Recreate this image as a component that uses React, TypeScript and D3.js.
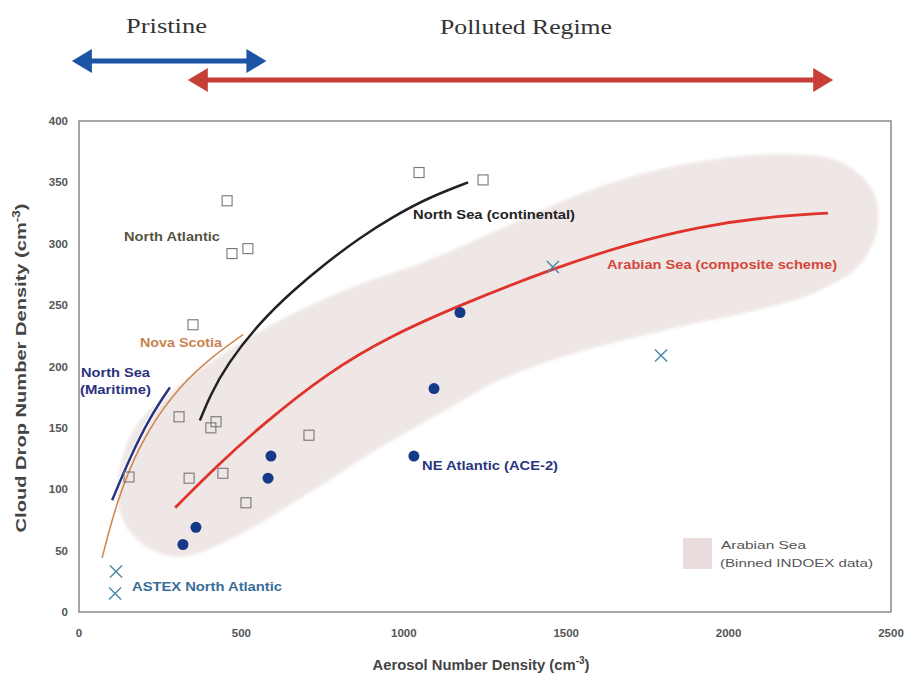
import React from "react";
import * as d3 from "d3";

type P = [number, number];

const xTicks = [0, 500, 1000, 1500, 2000, 2500];
const yTicks = [0, 50, 100, 150, 200, 250, 300, 350, 400];

const northAtlanticSquares: P[] = [
  [456, 335], [471, 292], [520, 296], [351, 234], [308, 159], [422, 155],
  [406, 150], [339, 109], [154, 110], [443, 113], [514, 89], [708, 144],
  [1047, 358], [1244, 352],
];

const aceDots: P[] = [
  [320, 55], [360, 69], [582, 109], [591, 127], [1031, 127], [1093, 182], [1173, 244],
];

const astexCrosses: P[] = [
  [114, 33], [111, 15], [1459, 281], [1792, 209],
];

const arabianSeaCurve: P[] = [
  [296, 85], [420, 118], [557, 151], [764, 195], [967, 226], [1173, 250],
  [1459, 280], [1706, 301], [1912, 314], [2118, 322], [2306, 325],
];

const northSeaContinentalCurve: P[] = [
  [372, 156], [403, 176], [456, 202], [557, 236], [659, 262], [764, 285],
  [865, 305], [967, 322], [1071, 337], [1198, 350],
];

const novaScotiaCurve: P[] = [
  [71, 44], [117, 91], [188, 138], [289, 178], [394, 205], [505, 226],
];

const northSeaMaritimeCurve: P[] = [
  [102, 91], [157, 126], [219, 159], [280, 183],
];

const indoexEnvelope: P[] = [
  [120, 108], [172, 150], [296, 182], [465, 214], [650, 242], [865, 267],
  [1081, 287], [1296, 312], [1481, 334], [1666, 352], [1912, 367], [2158, 373],
  [2343, 367], [2442, 344], [2460, 315], [2405, 283], [2281, 262], [2118, 248],
  [1810, 230], [1502, 209], [1296, 189], [1133, 165], [927, 134], [720, 99],
  [465, 59], [311, 45], [209, 53], [135, 75],
];

const pristineRange: [number, number] = [-22, 577];
const pollutedRange: [number, number] = [335, 2322];

export default function App() {
  const W = 913, H = 679;
  const x = d3.scaleLinear().domain([0, 2500]).range([79, 891]);
  const y = d3.scaleLinear().domain([0, 400]).range([612, 121]);

  const line = d3.line<P>().x(d => x(d[0])).y(d => y(d[1])).curve(d3.curveBasis);
  const blob = d3.line<P>().x(d => x(d[0])).y(d => y(d[1])).curve(d3.curveCatmullRomClosed.alpha(0.5));

  const font = "'Liberation Sans', Arial, sans-serif";
  const serif = "'Liberation Serif', 'Times New Roman', serif";

  const arrow = (x1: number, x2: number, yy: number, color: string) => {
    const hl = 20, hh = 12, sw = 5;
    return (
      <g>
        <line x1={x1 + hl - 2} x2={x2 - hl + 2} y1={yy} y2={yy} stroke={color} strokeWidth={sw} />
        <path d={`M${x1},${yy} L${x1 + hl},${yy - hh} L${x1 + hl},${yy + hh} Z`} fill={color} />
        <path d={`M${x2},${yy} L${x2 - hl},${yy - hh} L${x2 - hl},${yy + hh} Z`} fill={color} />
      </g>
    );
  };

  const Label = (p: { x: number; y: number; w: number; fill: string; text: string; size?: number; weight?: number }) => (
    <text x={p.x} y={p.y} fontFamily={font} fontWeight={p.weight ?? 700} fontSize={p.size ?? 12}
      fill={p.fill} textLength={p.w} lengthAdjust="spacingAndGlyphs">{p.text}</text>
  );

  return (
    <svg width={W} height={H} style={{ position: "absolute", left: 0, top: 0, display: "block", background: "#fff" }}>
      <defs>
        <filter id="soft" x="-5%" y="-5%" width="110%" height="110%">
          <feGaussianBlur stdDeviation="1.5" />
        </filter>
      </defs>

      {/* top annotations */}
      <text x={126} y={33} fontFamily={serif} fontSize={20} fill="#333" textLength={81} lengthAdjust="spacingAndGlyphs">Pristine</text>
      <text x={440} y={34} fontFamily={serif} fontSize={20} fill="#333" textLength={172} lengthAdjust="spacingAndGlyphs">Polluted Regime</text>
      {arrow(x(pollutedRange[0]), x(pollutedRange[1]), 80, "#c63e36")}
      {arrow(x(pristineRange[0]), x(pristineRange[1]), 61, "#1d55a6")}

      {/* envelope */}
      <path d={blob(indoexEnvelope) || ""} fill="#eee7e5" filter="url(#soft)" />

      {/* frame */}
      <rect x={79} y={121} width={812} height={491} fill="none" stroke="#8a8a8a" strokeWidth={1.5} />

      {/* ticks */}
      {yTicks.map(t => (
        <text key={"y" + t} x={68} y={y(t)} dy="0.35em" textAnchor="end" fontFamily={font} fontWeight={700} fontSize={11.5} fill="#555">{t}</text>
      ))}
      {xTicks.map(t => (
        <text key={"x" + t} x={x(t)} y={633} dy="0.35em" textAnchor="middle" fontFamily={font} fontWeight={700} fontSize={11.5} fill="#555">{t}</text>
      ))}

      {/* axis titles */}
      <text x={481} y={670} textAnchor="middle" fontFamily={font} fontWeight={700} fontSize={14.8} fill="#444">
        Aerosol Number Density (cm<tspan dy={-6} fontSize={10}>-3</tspan><tspan dy={6}>)</tspan>
      </text>
      <g transform="translate(26,368) rotate(-90) scale(1.34,1)">
        <text x={0} y={0} textAnchor="middle" fontFamily={font} fontWeight={700} fontSize={15} fill="#444">
          Cloud Drop Number Density (cm<tspan dy={-6} fontSize={10}>-3</tspan><tspan dy={6}>)</tspan>
        </text>
      </g>

      {/* curves */}
      <path d={line(novaScotiaCurve) || ""} fill="none" stroke="#d08a52" strokeWidth={1.6} />
      <path d={line(northSeaMaritimeCurve) || ""} fill="none" stroke="#fff" strokeWidth={4.5} />
      <path d={line(northSeaMaritimeCurve) || ""} fill="none" stroke="#2b3380" strokeWidth={2.5} />
      <path d={line(northSeaContinentalCurve) || ""} fill="none" stroke="#222" strokeWidth={2.5} />
      <path d={line(arabianSeaCurve) || ""} fill="none" stroke="#e0332b" strokeWidth={2.8} />

      {/* markers */}
      {northAtlanticSquares.map((d, i) => (
        <rect key={"s" + i} x={x(d[0]) - 5} y={y(d[1]) - 5} width={10} height={10} fill="none" stroke="#777" strokeWidth={1.1} />
      ))}
      {aceDots.map((d, i) => (
        <circle key={"c" + i} cx={x(d[0])} cy={y(d[1])} r={5.5} fill="#16398a" />
      ))}
      {astexCrosses.map((d, i) => (
        <path key={"x" + i} d={`M${x(d[0]) - 6},${y(d[1]) - 6} L${x(d[0]) + 6},${y(d[1]) + 6} M${x(d[0]) - 6},${y(d[1]) + 6} L${x(d[0]) + 6},${y(d[1]) - 6}`} stroke="#4d8aa6" strokeWidth={1.5} fill="none" />
      ))}

      {/* labels */}
      <Label x={124} y={241} w={96} fill="#55553f" text="North Atlantic" />
      <Label x={140} y={347} w={82} fill="#c8834e" text="Nova Scotia" />
      <Label x={81} y={377} w={69} fill="#2b3380" text="North Sea" />
      <Label x={80} y={394} w={71} fill="#2b3380" text="(Maritime)" />
      <Label x={413} y={219} w={162} fill="#222" text="North Sea (continental)" />
      <Label x={607} y={269} w={230} fill="#d4473d" text="Arabian Sea (composite scheme)" />
      <Label x={422} y={470} w={136} fill="#2b3580" text="NE Atlantic (ACE-2)" />
      <Label x={132} y={591} w={150} fill="#3a6e9a" text="ASTEX North Atlantic" />

      {/* legend */}
      <rect x={683} y={538} width={29} height={31} fill="#eadcdc" />
      <Label x={721} y={549} w={85} fill="#555" text="Arabian Sea" size={11} weight={400} />
      <Label x={720} y={567} w={153} fill="#555" text="(Binned INDOEX data)" size={11} weight={400} />
    </svg>
  );
}
